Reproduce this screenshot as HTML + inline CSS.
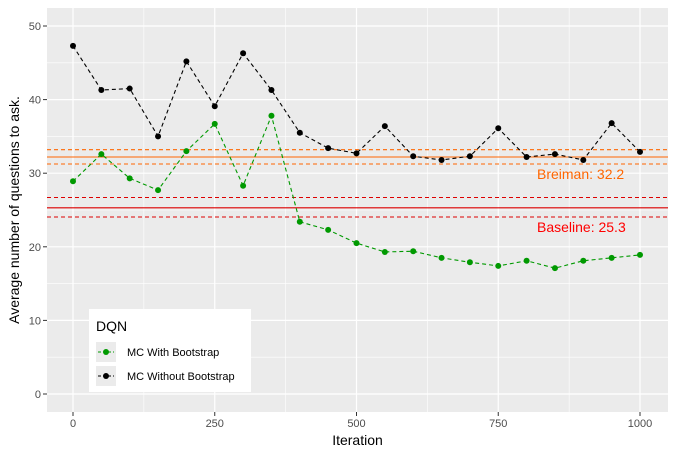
<!DOCTYPE html>
<html><head><meta charset="utf-8"><style>
body{margin:0;background:#fff;font-family:"Liberation Sans",sans-serif}
</style></head><body>
<svg id="c" width="676" height="458" xmlns="http://www.w3.org/2000/svg" font-family="Liberation Sans, sans-serif"></svg>
<script>
const iters=[0,50,100,150,200,250,300,350,400,450,500,550,600,650,700,750,800,850,900,950,1000];
const withoutBoot=[47.3,41.3,41.5,35.0,45.2,39.1,46.3,41.3,35.5,33.4,32.7,36.4,32.3,31.8,32.3,36.1,32.2,32.6,31.8,36.8,32.9];
const withBoot=[28.9,32.6,29.3,27.7,33.0,36.7,28.3,37.8,23.4,22.3,20.5,19.3,19.4,18.5,17.9,17.4,18.1,17.1,18.1,18.5,18.9];
const yTicks=[0,10,20,30,40,50];
const xTicks=[0,250,500,750,1000];
const breiman=[31.25,32.2,33.2];
const baseline=[24.05,25.3,26.7];
const NS="http://www.w3.org/2000/svg",svg=document.getElementById('c');
const L=47,R=668,T=8,B=412;
const X=v=>73+v*0.567, Y=v=>394-v*7.36;
function el(t,a,p){const e=document.createElementNS(NS,t);for(const k in a)e.setAttribute(k,a[k]);(p||svg).appendChild(e);return e;}
const bg=el('rect',{x:L,y:T,width:R-L,height:B-T,fill:'#ebebeb'});


for(let i=0;i<yTicks.length-1;i++){const g=el('line',{x1:L,x2:R,y1:Y((yTicks[i]+yTicks[i+1])/2),y2:Y((yTicks[i]+yTicks[i+1])/2),stroke:'#fff','stroke-width':0.6});}
for(let i=0;i<xTicks.length-1;i++){const g=el('line',{y1:T,y2:B,x1:X((xTicks[i]+xTicks[i+1])/2),x2:X((xTicks[i]+xTicks[i+1])/2),stroke:'#fff','stroke-width':0.6});}
yTicks.forEach(v=>{const g=el('line',{x1:L,x2:R,y1:Y(v),y2:Y(v),stroke:'#fff','stroke-width':1.2});
el('line',{x1:L-4,x2:L,y1:Y(v),y2:Y(v),stroke:'#333'});
const t=el('text',{x:L-6,y:Y(v)+4,'text-anchor':'end','font-size':11,fill:'#4d4d4d'});t.textContent=v;});
xTicks.forEach(v=>{const g=el('line',{y1:T,y2:B,x1:X(v),x2:X(v),stroke:'#fff','stroke-width':1.2});
el('line',{y1:B,y2:B+4,x1:X(v),x2:X(v),stroke:'#333'});
const t=el('text',{x:X(v),y:B+15,'text-anchor':'middle','font-size':11,fill:'#4d4d4d'});t.textContent=v;});
function hlines(vals,col,name){vals.forEach((v,i)=>{const l=el('line',{x1:L,x2:R,y1:Y(v),y2:Y(v),stroke:col,'stroke-width':1.1});if(i!==1)l.setAttribute('stroke-dasharray','4,3');});}
hlines(breiman,'#ff6600','breiman');
hlines(baseline,'#dd0000','baseline');
function series(vals,col,name){const pts=iters.map((x,i)=>X(x)+','+Y(vals[i])).join(' ');
const p=el('polyline',{points:pts,fill:'none',stroke:col,'stroke-width':1.1,'stroke-dasharray':'4,3'});
iters.forEach((x,i)=>{const c=el('circle',{cx:X(x),cy:Y(vals[i]),r:3,fill:col});});}
series(withoutBoot,'#000','without-bootstrap');
series(withBoot,'#009900','with-bootstrap');
let t=el('text',{x:537,y:179,'font-size':14,fill:'#ff6600'});t.textContent='Breiman: 32.2';
t=el('text',{x:537,y:232,'font-size':14,fill:'#ff0000'});t.textContent='Baseline: 25.3';
t=el('text',{x:(L+R)/2,y:445,'text-anchor':'middle','font-size':14,fill:'#000'});t.textContent='Iteration';
t=el('text',{x:0,y:0,'text-anchor':'middle','font-size':14,fill:'#000',transform:'translate(19,210) rotate(-90)'});t.textContent='Average number of questions to ask.';
const lg=el('g',{});
el('rect',{x:89,y:309,width:162,height:83,fill:'#fff'},lg);
t=el('text',{x:96,y:331,'font-size':14,fill:'#000'},lg);t.textContent='DQN';
[['MC With Bootstrap','#009900',352],['MC Without Bootstrap','#000',376]].forEach(([lab,col,y])=>{
const g=el('g',{},lg);
el('rect',{x:96,y:y-10,width:20,height:20,fill:'#ebebeb'},g);
el('line',{x1:98,x2:114,y1:y,y2:y,stroke:col,'stroke-dasharray':'3,2'},g);
el('circle',{cx:106,cy:y,r:3,fill:col},g);
const tt=el('text',{x:127,y:y+4,'font-size':11,fill:'#000'},g);tt.textContent=lab;});
</script>
</body></html>
